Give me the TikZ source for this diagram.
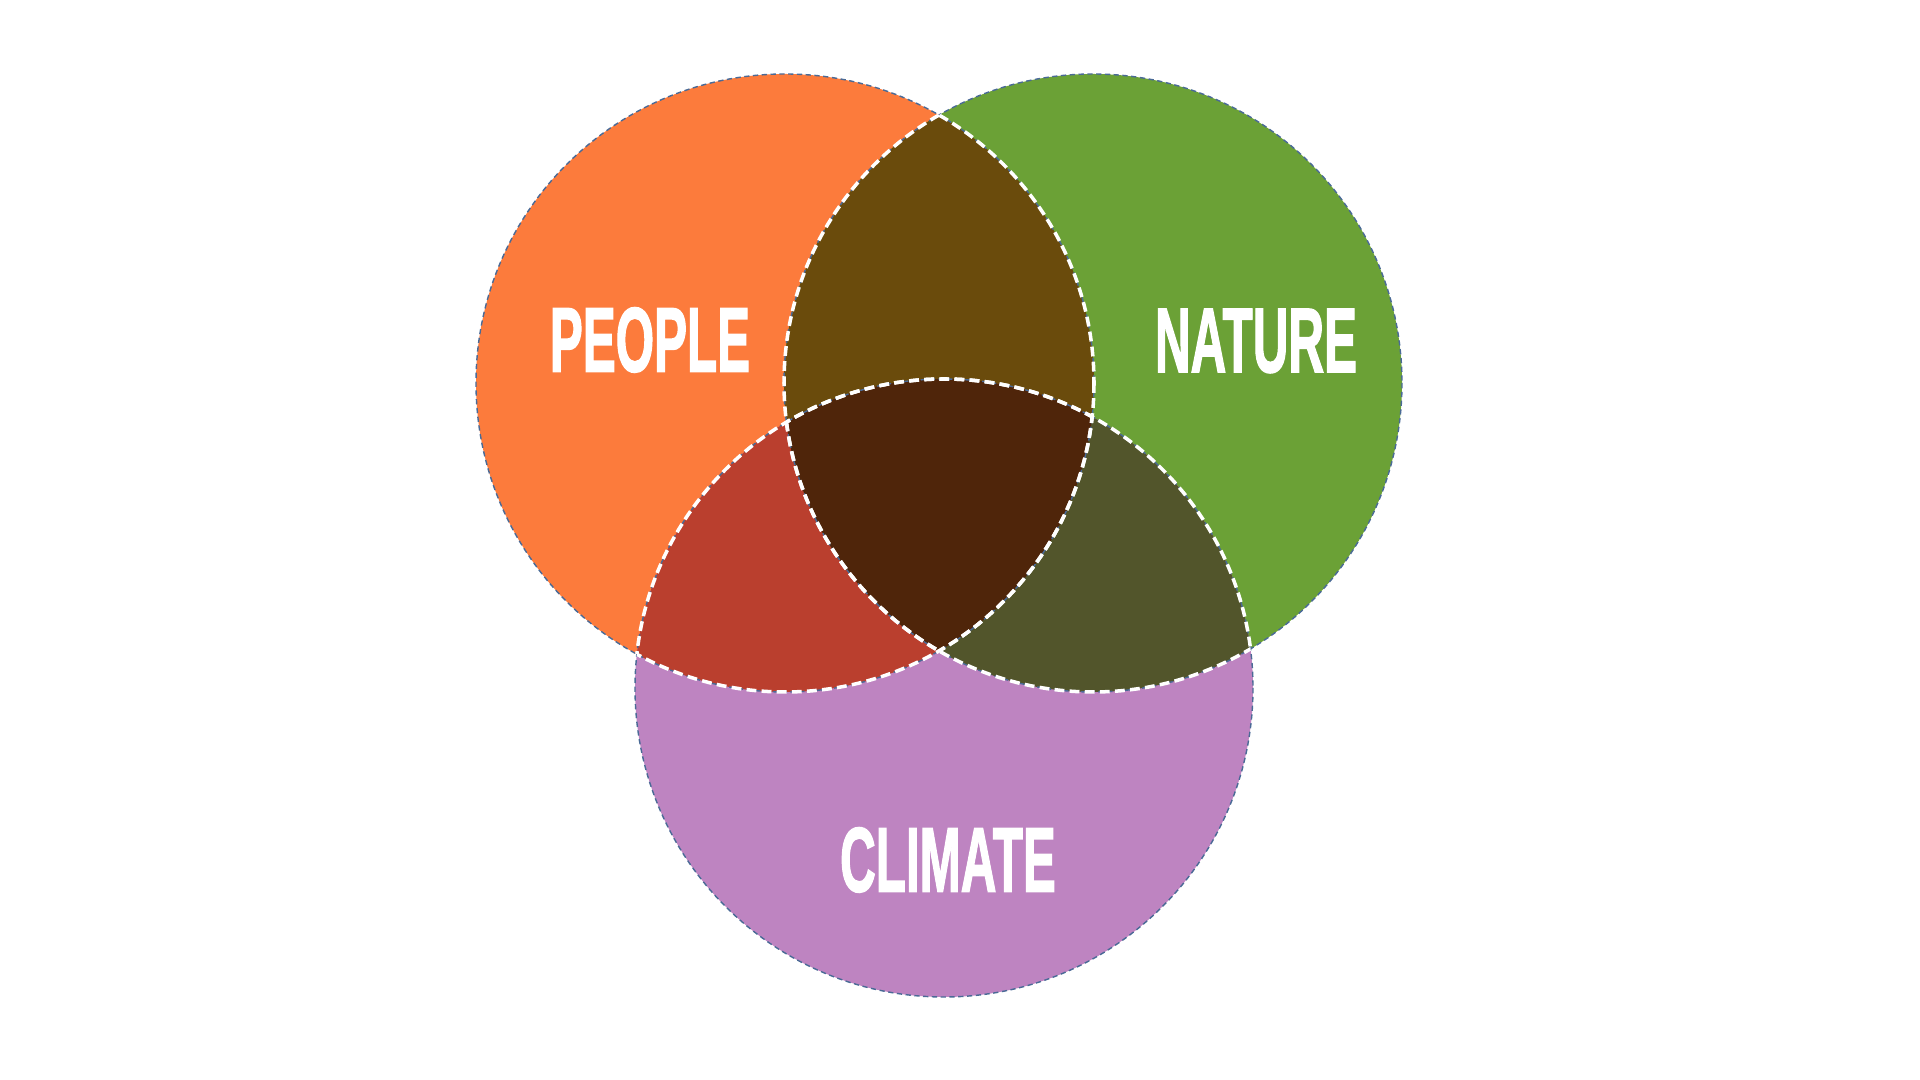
\documentclass[tikz,border=0pt]{standalone}
\usepackage{fontspec}
\usepackage{graphicx}
\setmainfont{Liberation Sans}
\newfontfamily\tagfont[FakeBold=2]{Liberation Sans Bold}

\definecolor{peoplecol}{HTML}{FC7B3C}
\definecolor{naturecol}{HTML}{6BA136}
\definecolor{climatecol}{HTML}{BE84C1}
\definecolor{pncol}{HTML}{6A4B0C}
\definecolor{pccol}{HTML}{BA3F2E}
\definecolor{nccol}{HTML}{52552B}
\definecolor{allcol}{HTML}{4F250A}
\definecolor{rimcol}{HTML}{4A6A96}

\newcommand{\vennr}{309}
\newcommand{\tagtext}[1]{\scalebox{0.54}[1]{#1}}

\tikzset{
  rim/.style={draw=rimcol, line width=0.4pt, dash pattern=on 1.5pt off 1pt},
  seam/.style={draw=white, line width=1pt, dash pattern=on 2.8pt off 1.5pt},
  tag/.style={text=white, inner sep=0pt, font=\fontsize{26}{26}\tagfont}
}

\begin{document}
\begin{tikzpicture}[x=0.01cm,y=-0.01cm]
  \useasboundingbox (0,0) rectangle (1920,1080);
  \coordinate (P) at (785,383);
  \coordinate (N) at (1093,383);
  \coordinate (C) at (944,688);

  % plain circles
  \fill[peoplecol] (P) circle (\vennr);
  \fill[naturecol] (N) circle (\vennr);
  \fill[climatecol] (C) circle (\vennr);

  % overlaps
  \begin{scope}
    \clip (P) circle (\vennr);
    \fill[pncol] (N) circle (\vennr);
    \fill[pccol] (C) circle (\vennr);
  \end{scope}
  \begin{scope}
    \clip (N) circle (\vennr);
    \fill[nccol] (C) circle (\vennr);
  \end{scope}
  \begin{scope}
    \clip (P) circle (\vennr);
    \clip (N) circle (\vennr);
    \fill[allcol] (C) circle (\vennr);
  \end{scope}

  % outlines
  \foreach \c in {P,N,C}
    \draw[rim] (\c) circle (\vennr);
  \foreach \a/\b in {P/N,P/C,N/P,N/C,C/P,C/N} {
    \begin{scope}
      \clip (\b) circle (\vennr);
      \draw[seam] (\a) circle (\vennr);
    \end{scope}
  }

  \node[tag] (people) at (650,340) {\tagtext{PEOPLE}};
  \node[tag] (nature) at (1256,341) {\tagtext{NATURE}};
  \node[tag] (climate) at (948,860) {\tagtext{CLIMATE}};
\end{tikzpicture}
\end{document}
